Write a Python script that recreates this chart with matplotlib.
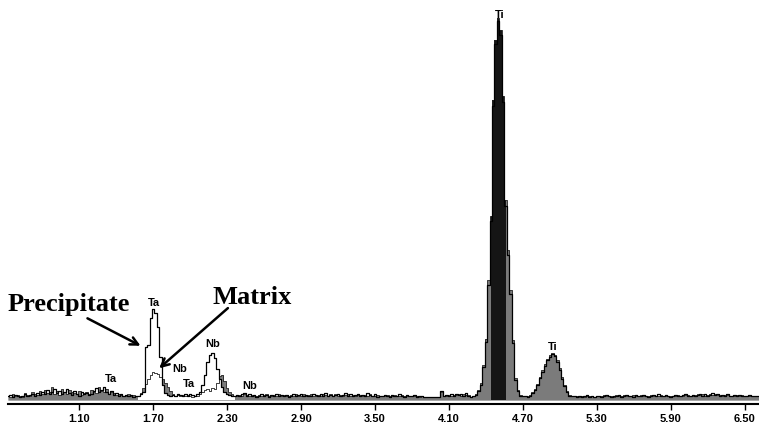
import numpy as np
import matplotlib.pyplot as plt

# energy channels are 0.02 keV wide; each segment starts at the energy below
seg_starts = [0.52, 1.58, 2.38, 4.28, 5.12]

# precipitate spectrum (outline) - counts per channel
prec_low = [10, 13, 9, 14, 11, 8, 12, 15, 10, 13,
            16, 12, 18, 14, 22, 17, 26, 15, 20, 28,
            18, 24, 16, 21, 30, 19, 14, 23, 17, 12,
            20, 15, 18, 13, 16, 24, 31, 20, 27, 34,
            22, 17, 25, 14, 19, 12, 16, 11, 14, 10,
            13, 9, 12]
prec_ta_nb = [10, 16, 21, 138, 143, 213, 236, 226, 190, 112, 39, 18, 13, 10,
              14, 11, 17, 13, 10, 15, 12, 16, 13, 10,
              16, 21, 39, 65, 99, 117, 122, 109, 80, 55, 34, 22, 17, 13, 11, 12]
prec_mid = [13, 10, 15, 18, 12, 16, 11, 14, 9, 12,
            15, 11, 13, 9, 14, 12, 16, 10, 13, 11,
            14, 9, 12, 15, 10, 13, 17, 11, 14, 10,
            12, 16, 13, 10, 15, 11, 18, 12, 14, 10,
            13, 16, 11, 14, 19, 12, 15, 10, 13, 17,
            12, 14, 10, 18, 13, 11, 15, 9, 12, 10,
            13, 11, 9, 14, 10, 12, 15, 11, 9, 13,
            10, 12, 14, 9, 11, 10, 8, 9, 8, 8,
            9, 8, 9, 24, 11, 14, 10, 15, 12, 17,
            13, 16, 12, 18, 11]
prec_ti = [8, 11, 14, 24, 40, 85, 150, 300, 465, 765, 925, 985, 950, 775, 505,
           378, 275, 148, 52, 24, 12, 11,
           11, 9, 12, 19, 27, 39, 57, 74, 90, 104, 113, 119, 114, 100, 79, 56,
           36, 21, 12, 11]
prec_high = [12, 9, 11, 8, 10, 13, 9, 11, 8, 10,
             12, 9, 11, 14, 10, 8, 12, 10, 13, 9,
             11, 14, 10, 12, 9, 13, 11, 10, 14, 12,
             9, 11, 13, 10, 15, 12, 10, 13, 11, 9,
             12, 14, 11, 10, 13, 16, 12, 10, 14, 11,
             13, 17, 12, 15, 11, 14, 18, 13, 16, 12,
             14, 11, 15, 12, 10, 13, 11, 14, 12, 10,
             12, 13, 10, 11, 12, 10]

# matrix spectrum (grey filled)
mat_low = [12, 8, 15, 10, 13, 11, 9, 18, 13, 11,
           20, 15, 14, 24, 16, 27, 19, 22, 33, 17,
           25, 14, 29, 20, 17, 26, 22, 18, 15, 24,
           13, 19, 22, 16, 27, 20, 18, 33, 24, 21,
           30, 15, 20, 18, 13, 17, 14, 12, 10, 15,
           11, 13, 10]
mat_ta_nb = [11, 18, 31, 42, 55, 66, 72, 70, 68, 60, 54, 45, 34, 24,
             16, 12, 14, 11, 13, 10, 14, 11, 9, 12,
             10, 16, 21, 26, 30, 23, 31, 29, 44, 62, 66, 50, 31, 20, 15, 12]
mat_mid = [11, 14, 12, 16, 14, 11, 13, 10, 12, 14,
           10, 13, 15, 11, 12, 14, 10, 15, 11, 13,
           12, 11, 14, 10, 16, 12, 11, 15, 12, 13,
           15, 11, 12, 14, 10, 17, 13, 11, 16, 12,
           15, 11, 14, 12, 13, 16, 11, 14, 12, 13,
           14, 11, 13, 12, 15, 10, 12, 13, 10, 12,
           10, 13, 11, 12, 13, 10, 11, 13, 12, 10,
           12, 10, 11, 12, 9, 11, 9, 8, 9, 8,
           8, 9, 8, 20, 10, 12, 13, 11, 14, 13,
           15, 12, 16, 14, 13]
mat_ti = [8, 10, 16, 26, 44, 91, 160, 312, 478, 780, 936, 993, 962, 790, 520,
          390, 286, 156, 57, 26, 13, 10,
          12, 10, 13, 21, 29, 42, 60, 78, 94, 107, 117, 122, 117, 104, 83, 60,
          39, 23, 13, 10]
mat_high = [10, 11, 9, 12, 9, 11, 12, 10, 9, 12,
            10, 11, 13, 10, 12, 11, 9, 13, 10, 12,
            13, 10, 12, 11, 13, 10, 12, 13, 11, 10,
            12, 13, 10, 12, 11, 13, 12, 11, 10, 12,
            11, 12, 14, 12, 11, 13, 14, 11, 12, 13,
            15, 13, 16, 12, 14, 16, 14, 15, 13, 14,
            12, 14, 13, 11, 12, 12, 13, 11, 13, 12,
            11, 12, 11, 12, 10, 11]

# Ti K-alpha region of interest (drawn black)
roi_lo, roi_hi = 4.44, 4.56
# window where the precipitate trace is drawn over the matrix (Ta / Nb lines)
over_lo, over_hi = 1.58, 2.36

tick_pos = [1.10, 1.70, 2.30, 2.90, 3.50, 4.10, 4.70, 5.30, 5.90, 6.50]
tick_labels = ['1.10', '1.70', '2.30', '2.90', '3.50', '4.10', '4.70', '5.30', '5.90', '6.50']

# peak labels: (text, energy, counts)
peak_labels = [('Ti', 4.516, 1001), ('Ti', 4.946, 137), ('Ta', 1.708, 252),
               ('Nb', 2.183, 146), ('Nb', 1.912, 82), ('Ta', 1.355, 56),
               ('Ta', 1.993, 42), ('Nb', 2.48, 37)]


def build(segs):
    e = np.concatenate([s + 0.02 * np.arange(len(seg)) for s, seg in zip(seg_starts, segs)])
    c = np.concatenate([np.array(seg, dtype=float) for seg in segs])
    return e, c


e_prec, c_prec = build([prec_low, prec_ta_nb, prec_mid, prec_ti, prec_high])
e_mat, c_mat = build([mat_low, mat_ta_nb, mat_mid, mat_ti, mat_high])

fig = plt.figure(figsize=(7.59, 4.26), dpi=100)
ax = fig.add_axes([8 / 759, 22 / 426, 751 / 759, 404 / 426])

# matrix: grey fill
ax.fill_between(e_mat, 0, c_mat, step='mid', color='#7b7b7b', lw=0, zorder=1)
# precipitate drawn over the matrix in the Ta/Nb window
ov = (e_prec > over_lo - 0.005) & (e_prec < over_hi + 0.005)
ax.fill_between(e_prec[ov], 0, c_prec[ov], step='mid', color='white', lw=0, zorder=2)
roi = (e_mat > roi_lo - 0.005) & (e_mat < roi_hi + 0.005)
ax.fill_between(e_mat[roi], 0, np.maximum(c_mat[roi], c_prec[roi]), step='mid',
                color='#151515', lw=0, zorder=2.5)
ax.plot(e_mat, c_mat, drawstyle='steps-mid', color='#202020', lw=0.6, zorder=3)
ax.plot(e_prec, c_prec, drawstyle='steps-mid', color='black', lw=0.9, zorder=4)

for txt, ex, cy in peak_labels:
    ax.text(ex, cy, txt, ha='center', va='center', fontsize=8,
            family=['Liberation Sans Narrow', 'Liberation Sans'], fontweight='bold', zorder=5)

ax.text(0.521, 231, 'Precipitate', ha='left', va='baseline', fontsize=19,
        family='Liberation Serif', fontweight='bold')
ax.text(2.179, 250, 'Matrix', ha='left', va='baseline', fontsize=19,
        family='Liberation Serif', fontweight='bold')

ax.annotate('', xy=(1.617, 138), xytext=(1.146, 216),
            arrowprops=dict(arrowstyle='->', lw=1.8, color='black', mutation_scale=14))
ax.annotate('', xy=(1.731, 78), xytext=(2.323, 244),
            arrowprops=dict(arrowstyle='->', lw=1.8, color='black', mutation_scale=14))

ax.set_xlim(0.521, 6.617)
ax.set_ylim(-10, 1040)
for s in ['left', 'right', 'top']:
    ax.spines[s].set_visible(False)
ax.spines['bottom'].set_linewidth(1.5)
ax.set_yticks([])
ax.set_xticks(tick_pos)
ax.set_xticklabels(tick_labels, family=['Liberation Sans Narrow', 'Liberation Sans'],
                   fontweight='bold', fontsize=8)
ax.tick_params(axis='x', direction='out', length=4, width=1, pad=3)

fig.savefig('out.png', dpi=100)
